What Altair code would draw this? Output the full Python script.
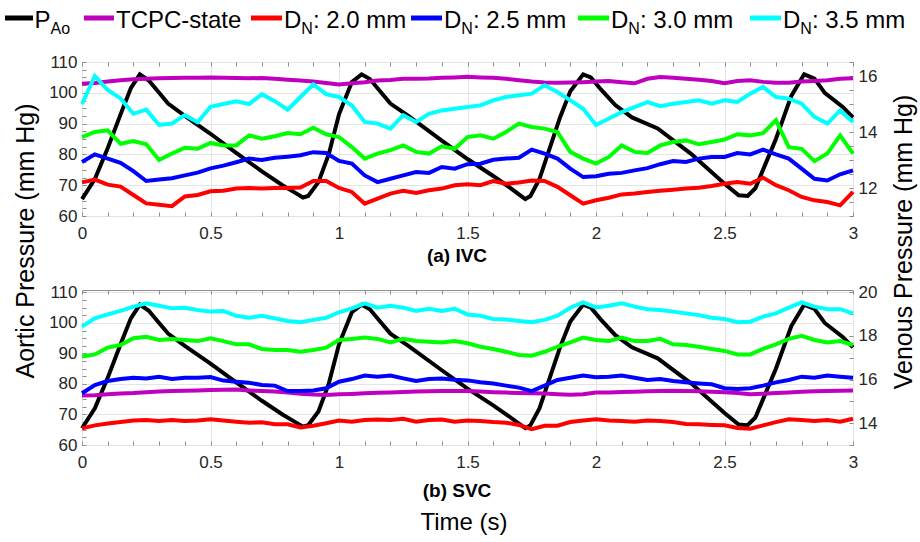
import altair as alt
import pandas as pd

# ---------------- data ----------------
T = [0.00, 0.05, 0.10, 0.15, 0.20, 0.25, 0.30, 0.35, 0.40, 0.45, 0.50,
     0.55, 0.60, 0.65, 0.70, 0.75, 0.80, 0.85, 0.90, 0.95, 1.00,
     1.05, 1.10, 1.15, 1.20, 1.25, 1.30, 1.35, 1.40, 1.45, 1.50,
     1.55, 1.60, 1.65, 1.70, 1.75, 1.80, 1.85, 1.90, 1.95, 2.00,
     2.05, 2.10, 2.15, 2.20, 2.25, 2.30, 2.35, 2.40, 2.45, 2.50,
     2.55, 2.60, 2.65, 2.70, 2.75, 2.80, 2.85, 2.90, 2.95, 3.00]

PAO_T = [0, 0.05, 0.10, 0.15, 0.19, 0.225, 0.26, 0.30, 0.335, 0.40, 0.50, 0.60, 0.70,
         0.78, 0.83, 0.86, 0.88, 0.92, 0.96, 1.00, 1.05, 1.088, 1.12, 1.16, 1.20, 1.27,
         1.40, 1.50, 1.60, 1.66, 1.70, 1.725, 1.745, 1.78, 1.82, 1.86, 1.90, 1.95, 1.98,
         2.02, 2.075, 2.14, 2.24, 2.37, 2.50, 2.555, 2.59, 2.62, 2.66, 2.70, 2.76, 2.81,
         2.85, 2.89, 2.96, 3.00]
PAO = [65.5, 72, 82, 93, 101.5, 106, 104, 100, 96.5, 92.5, 86.7, 80.5, 74.5,
       70, 67.5, 66, 66.5, 71, 80, 93, 103.5, 106, 104.5, 100.5, 96.5, 92.5,
       84.5, 78.5, 73, 69.5, 67, 65.5, 66.5, 72, 82, 92, 100.5, 106, 105,
       101, 96, 92, 88.4, 80.2, 70.5, 66.7, 66.5, 69, 77, 85, 99, 106,
       104.6, 100, 95.4, 92]

SERIES = ["TCPC-state", "DN: 2.0 mm", "DN: 2.5 mm", "DN: 3.0 mm", "DN: 3.5 mm"]
COLORS = ["#BF00BF", "#FF0000", "#0000FF", "#00FF00", "#00FFFF"]

# (a) IVC venous pressures (mm Hg)
IVC_TCPC = [15.72, 15.75, 15.8, 15.85, 15.88, 15.9, 15.92, 15.93, 15.94, 15.94, 15.95,
            15.94, 15.93, 15.92, 15.93, 15.9, 15.87, 15.84, 15.8, 15.75, 15.7,
            15.74, 15.78, 15.84, 15.86, 15.9, 15.9, 15.91, 15.94, 15.95, 15.97,
            15.95, 15.94, 15.9, 15.85, 15.8, 15.77, 15.76, 15.77, 15.78, 15.8,
            15.82, 15.78, 15.74, 15.9, 15.96, 15.94, 15.9, 15.87, 15.82, 15.74,
            15.82, 15.85, 15.79, 15.76, 15.76, 15.8, 15.82, 15.85, 15.9, 15.92]
IVC_20 = [12.2, 12.3, 12.12, 12.05, 11.75, 11.45, 11.4, 11.35, 11.7, 11.75, 11.88,
          11.9, 11.98, 12.0, 11.98, 12.0, 12.0, 12.02, 12.25, 12.25, 12.0,
          11.86, 11.44, 11.62, 11.8, 11.9, 11.82, 11.92, 11.98, 12.1, 12.13,
          12.1, 12.25, 12.15, 12.2, 12.27, 12.25, 12.04, 11.74, 11.44, 11.56,
          11.65, 11.77, 11.8, 11.86, 11.9, 11.94, 11.98, 12.01, 12.07, 12.15,
          12.21, 12.15, 12.37, 12.1, 11.92, 11.68, 11.56, 11.5, 11.38, 11.86]
IVC_25 = [12.93, 13.2, 13.05, 12.9, 12.6, 12.25, 12.3, 12.35, 12.45, 12.55, 12.7,
          12.8, 12.92, 13.05, 13.0, 13.08, 13.12, 13.17, 13.28, 13.25, 12.97,
          12.87, 12.45, 12.21, 12.33, 12.45, 12.57, 12.54, 12.75, 12.69, 12.85,
          12.87, 13.01, 13.05, 13.08, 13.37, 13.23, 13.05, 12.69, 12.39, 12.42,
          12.51, 12.54, 12.63, 12.71, 12.85, 12.96, 12.93, 13.05, 13.11, 13.11,
          13.25, 13.2, 13.37, 13.2, 13.05, 12.69, 12.33, 12.27, 12.49, 12.63]
IVC_30 = [13.82, 14.0, 14.06, 13.58, 13.68, 13.56, 13.0, 13.23, 13.44, 13.4, 13.61,
          13.52, 13.52, 13.88, 13.76, 13.85, 13.96, 13.92, 14.15, 13.92, 13.82,
          13.46, 13.05, 13.23, 13.35, 13.52, 13.29, 13.23, 13.49, 13.4, 13.82,
          13.88, 13.76, 14.0, 14.3, 14.18, 14.12, 14.0, 13.29, 13.05, 12.87,
          13.11, 13.52, 13.29, 13.25, 13.52, 13.64, 13.7, 13.56, 13.64, 13.73,
          13.92, 13.88, 13.96, 14.42, 13.46, 13.4, 12.96, 13.23, 13.88, 13.23]
IVC_35 = [15.0, 16.0, 15.5, 15.2, 14.65, 14.8, 14.25, 14.3, 14.6, 14.35, 14.9,
          15.0, 15.1, 15.0, 15.35, 15.1, 14.8, 15.25, 15.7, 15.35, 15.25,
          14.95, 14.36, 14.3, 14.12, 14.6, 14.36, 14.65, 14.77, 14.83, 14.89,
          14.95, 15.13, 15.25, 15.31, 15.37, 15.67, 15.43, 15.13, 14.83, 14.25,
          14.48, 14.71, 14.89, 15.07, 14.92, 15.01, 15.07, 15.13, 15.01, 15.13,
          15.07, 15.37, 15.61, 15.25, 15.19, 15.01, 14.54, 14.3, 14.77, 14.36]

# (b) SVC venous pressures (mm Hg)
SVC_TCPC = [15.27, 15.28, 15.33, 15.36, 15.38, 15.42, 15.45, 15.47, 15.48, 15.5, 15.52,
            15.53, 15.54, 15.5, 15.47, 15.45, 15.4, 15.35, 15.31, 15.29, 15.32,
            15.34, 15.37, 15.39, 15.41, 15.43, 15.45, 15.46, 15.47, 15.47, 15.47,
            15.45, 15.42, 15.4, 15.38, 15.37, 15.36, 15.33, 15.3, 15.32, 15.4,
            15.41, 15.43, 15.44, 15.46, 15.47, 15.48, 15.47, 15.46, 15.44, 15.42,
            15.38, 15.33, 15.35, 15.38, 15.41, 15.44, 15.46, 15.47, 15.48, 15.5]
SVC_20 = [13.76, 13.9, 13.98, 14.05, 14.12, 14.15, 14.1, 14.15, 14.1, 14.12, 14.18,
          14.12, 14.07, 14.02, 14.04, 13.95, 13.95, 13.8, 13.88, 14.0, 14.12,
          14.07, 14.15, 14.17, 14.15, 14.2, 14.07, 14.15, 14.17, 14.07, 14.12,
          14.1, 14.05, 14.02, 13.92, 13.72, 13.88, 13.88, 14.05, 14.12, 14.18,
          14.12, 14.1, 14.07, 14.12, 14.1, 14.05, 13.96, 13.95, 13.92, 13.9,
          13.78, 13.75, 13.9, 14.05, 14.18, 14.15, 14.1, 14.15, 14.07, 14.2]
SVC_25 = [15.37, 15.75, 15.93, 16.02, 16.08, 16.05, 16.13, 16.02, 16.08, 16.08, 16.11,
          15.95, 15.9, 15.85, 15.75, 15.72, 15.47, 15.47, 15.5, 15.6, 15.9,
          16.02, 16.18, 16.13, 16.18, 16.05, 15.93, 16.02, 16.05, 15.99, 15.96,
          15.87, 15.82, 15.72, 15.63, 15.47, 15.72, 15.98, 16.08, 16.18, 16.1,
          16.13, 16.18, 16.08, 15.98, 16.02, 15.93, 15.87, 15.82, 15.78, 15.6,
          15.56, 15.6, 15.72, 15.87, 15.98, 16.13, 16.08, 16.18, 16.13, 16.08]
SVC_30 = [17.05, 17.15, 17.46, 17.58, 17.89, 17.96, 17.81, 17.86, 17.81, 17.76, 17.89,
          17.76, 17.61, 17.61, 17.4, 17.35, 17.35, 17.27, 17.35, 17.46, 17.81,
          17.86, 17.92, 17.86, 17.7, 17.86, 17.76, 17.73, 17.7, 17.76, 17.66,
          17.5, 17.4, 17.27, 17.12, 17.09, 17.27, 17.5, 17.7, 17.92, 17.81,
          17.76, 17.92, 17.76, 17.76, 17.86, 17.61, 17.58, 17.5, 17.4, 17.31,
          17.15, 17.15, 17.4, 17.61, 17.86, 18.0, 17.81, 17.7, 17.76, 17.58]
SVC_35 = [18.42, 18.8, 18.98, 19.14, 19.34, 19.49, 19.38, 19.26, 19.29, 19.18, 19.11,
          19.14, 18.92, 18.83, 18.92, 18.8, 18.68, 18.62, 18.73, 18.83, 19.08,
          19.26, 19.49, 19.29, 19.38, 19.29, 19.14, 19.24, 19.14, 19.24, 18.98,
          18.92, 18.77, 18.75, 18.68, 18.62, 18.73, 18.92, 19.29, 19.53, 19.3,
          19.38, 19.49, 19.34, 19.22, 19.18, 19.11, 19.03, 18.95, 18.83, 18.77,
          18.62, 18.65, 18.88, 19.03, 19.29, 19.53, 19.34, 19.22, 19.22, 19.03]

X_TICKS = [0, 0.1, 0.2, 0.3, 0.4, 0.5, 0.6, 0.7, 0.8, 0.9, 1.0, 1.1, 1.2, 1.3, 1.4, 1.5,
           1.6, 1.7, 1.8, 1.9, 2.0, 2.1, 2.2, 2.3, 2.4, 2.5, 2.6, 2.7, 2.8, 2.9, 3.0]
LEFT_TICKS = [60, 62.5, 65, 67.5, 70, 72.5, 75, 77.5, 80, 82.5, 85, 87.5, 90, 92.5,
              95, 97.5, 100, 102.5, 105, 107.5, 110]
IVC_RIGHT_TICKS = [11, 11.5, 12, 12.5, 13, 13.5, 14, 14.5, 15, 15.5, 16, 16.5]
SVC_RIGHT_TICKS = [13, 14, 15, 16, 17, 18, 19, 20]

# ---------------- style ----------------
FONT = "Liberation Sans"
AXC = "#8c8c8c"
GRIDC = "#e4e4e4"
TXT = "#262626"
W, HA, HB = 771, 154, 155
LW = 4


def maj(step):
    return f"abs(datum.value/{step} - round(datum.value/{step})) < 0.001"


def long_df(cols):
    rows = []
    for name, vals in zip(SERIES, cols):
        for t, v in zip(T, vals):
            rows.append({"t": t, "v": v, "s": name})
    return pd.DataFrame(rows)


pao_df = pd.DataFrame({"t": PAO_T, "p": PAO})
one = pd.DataFrame({"k": [0]})
XSCALE = alt.Scale(domain=[0, 3], nice=False, zero=False)


def x_bottom():
    return alt.X("t:Q", scale=XSCALE,
                 axis=alt.Axis(values=X_TICKS, title=None, domain=False, offset=-4,
                               tickSize=4, tickColor=AXC, labelPadding=9,
                               labelExpr=f"({maj(0.5)}) ? format(datum.value, '~g') : ''",
                               labelFontSize=17, labelColor=TXT, labelFont=FONT,
                               labelOverlap=False, labelFlush=False, labelBound=False,
                               grid=True, gridColor=GRIDC,
                               gridOpacity={"condition": {"test": maj(0.5), "value": 1}, "value": 0}))


def x_top():
    return alt.X("t:Q", scale=XSCALE,
                 axis=alt.Axis(orient="top", values=X_TICKS, title=None, domain=False,
                               offset=-4, tickSize=4, tickColor=AXC, labels=False, grid=False))


def txt(text, x, y, size, weight="normal", angle=0, align="left", baseline="alphabetic"):
    return alt.Chart(one).mark_text(text=text, fontSize=size, font=FONT, fontWeight=weight,
                                    angle=angle, align=align, baseline=baseline,
                                    color="#000000").encode(x=alt.value(x), y=alt.value(y))


def swatch(x1, x2, y, color):
    return alt.Chart(one).mark_rule(color=color, strokeWidth=5).encode(
        x=alt.value(x1), x2=alt.value(x2), y=alt.value(y))


def panel(cols, left_dom, right_dom, right_ticks, height, extras):
    black = alt.Chart(pao_df).mark_line(color="#000000", strokeWidth=LW).encode(
        x=x_bottom(),
        y=alt.Y("p:Q", scale=alt.Scale(domain=left_dom, nice=False, zero=False),
                axis=alt.Axis(orient="left", values=LEFT_TICKS, title=None, domain=False,
                              offset=-4, tickSize=4, tickColor=AXC, labelPadding=5,
                              labelExpr=f"({maj(10)}) ? format(datum.value, 'd') : ''",
                              labelFontSize=17, labelColor=TXT, labelFont=FONT,
                              labelOverlap=False, labelBound=False, labelFlush=False,
                              grid=True, gridColor=GRIDC,
                              gridOpacity={"condition": {"test": maj(10), "value": 1}, "value": 0})))
    ven = alt.Chart(long_df(cols)).mark_line(strokeWidth=LW).encode(
        x=x_top(),
        y=alt.Y("v:Q", scale=alt.Scale(domain=right_dom, nice=False, zero=False),
                axis=alt.Axis(orient="right", values=right_ticks, title=None, domain=False,
                              offset=-4, tickSize=4, tickColor=AXC, labelPadding=5,
                              labelExpr=f"({maj(2)}) ? format(datum.value, 'd') : ''",
                              labelFontSize=17, labelColor=TXT, labelFont=FONT,
                              labelOverlap=False, labelBound=False, labelFlush=False,
                              grid=False)),
        color=alt.Color("s:N", scale=alt.Scale(domain=SERIES, range=COLORS), legend=None))
    return (alt.layer(black, ven, *extras)
            .resolve_scale(y="independent")
            .resolve_axis(x="independent")
            .properties(width=W, height=height))


# legend (layout positions relative to top panel plot origin)
legend = [
    swatch(-77, -49, -44, "#000000"), txt("P", -47.5, -34, 24), txt("Ao", -31.5, -28, 16),
    swatch(2, 32, -44, COLORS[0]), txt("TCPC-state", 34, -34, 24),
]
for i, (sx, dx, lab) in enumerate([(169, 202, ": 2.0 mm"), (329, 362, ": 2.5 mm"),
                                   (496, 529, ": 3.0 mm"), (668, 701, ": 3.5 mm")]):
    legend += [swatch(sx, sx + 31, -44, COLORS[i + 1]), txt("D", dx, -34, 24),
               txt("N", dx + 17.3, -28, 16), txt(lab, dx + 28.9, -34, 24)]

extras_a = legend + [
    txt("(a) IVC", 375, 194, 19, weight="bold", align="center", baseline="middle"),
    txt("Aortic Pressure (mm Hg)", -56.5, 179, 25, angle=270, align="center", baseline="middle"),
    txt("Venous Pressure (mm Hg)", 822, 180, 25, angle=270, align="center", baseline="middle"),
]
extras_b = [
    txt("(b) SVC", 375, 201, 19, weight="bold", align="center", baseline="middle"),
    txt("Time (s)", 382, 233, 24, align="center", baseline="middle"),
]

pa = panel([IVC_TCPC, IVC_20, IVC_25, IVC_30, IVC_35], [60, 110], [11, 16.5],
           IVC_RIGHT_TICKS, HA, extras_a)
pb = panel([SVC_TCPC, SVC_20, SVC_25, SVC_30, SVC_35], [60, 110.8], [13, 20.1],
           SVC_RIGHT_TICKS, HB, extras_b)

chart = alt.vconcat(pa, pb, spacing=74, bounds="flush").properties(
    padding={"left": 2, "top": 8, "right": 0, "bottom": 0},
    background="white",
).configure_view(stroke=AXC, strokeWidth=1)

chart.save("out.html", embed_options={"renderer": "svg", "actions": False})
